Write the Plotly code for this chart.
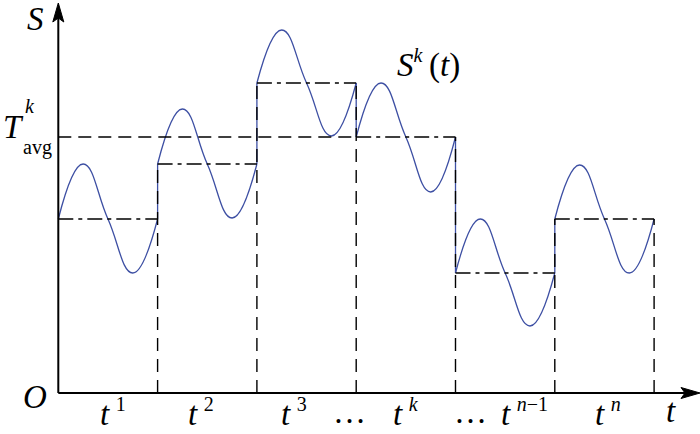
import plotly.graph_objects as go

# ---------------- data ----------------
boundaries = [0, 1, 2, 3, 4, 5, 6]                 # segment edges on t
seg_level = [17.4, 22.9, 31.0, 25.6, 12.0, 17.4]   # segment average (dash-dot steps)
seg_peak = [22.9, 28.4, 36.3, 31.0, 17.4, 22.8]    # curve maximum in each segment
seg_trough = [12.0, 17.5, 25.7, 20.1, 6.7, 12.0]   # curve minimum in each segment
t_avg_value = 25.6                                  # T^k_avg level
t_avg_end = 3                                       # T^k_avg line ends at start of segment k

x_label_base = ["t", "t", "t", "…", "t", "…", "t", "t"]
x_label_sup = ["1", "2", "3", "", "<i>k</i>", "", "<i>n</i>−1", "<i>n</i>"]
x_label_pos = [0.55, 1.44, 2.37, 2.93, 3.50, 4.15, 4.69, 5.54]

# ---------------- geometry helpers (pixel <-> data) ----------------
W, H = 700, 434
X0PX, XSCALE = 58.3, 99.3     # t = 0 at px 58.3, 99.3 px per unit
Y0PX, YSCALE = 393.0, 10.0    # S = 0 at py 393, 10 px per unit


def tx(px):
    return (px - X0PX) / XSCALE


def sy(py):
    return (Y0PX - py) / YSCALE


BLUE = "#3d4fa3"
FONT = "Liberation Serif"
MAIN = 33
SUP = 20


def sup(s):
    return f"\u2009<sup><span style='font-size:{SUP}px'>{s}</span></sup>"


fig = go.Figure()

# sine-like curve in each segment (spline through start, peak, mid, trough, end)
for i in range(len(seg_level)):
    a, b = boundaries[i], boundaries[i + 1]
    w = b - a
    xs = [a, a + w / 4, a + w / 2, a + 3 * w / 4, b]
    ys = [seg_level[i], seg_peak[i], seg_level[i], seg_trough[i], seg_level[i]]
    fig.add_trace(go.Scatter(x=xs, y=ys, mode="lines",
                             line=dict(color=BLUE, width=1.3, shape="spline", smoothing=1.3),
                             hoverinfo="skip", showlegend=False))

# vertical jumps of the curve at segment edges
jx, jy = [], []
for i in range(1, len(seg_level)):
    jx += [boundaries[i], boundaries[i], None]
    jy += [seg_level[i - 1], seg_level[i], None]
fig.add_trace(go.Scatter(x=jx, y=jy, mode="lines", line=dict(color=BLUE, width=1.3),
                         hoverinfo="skip", showlegend=False))

# step (segment averages) dash-dot lines
for i in range(len(seg_level)):
    fig.add_trace(go.Scatter(x=[boundaries[i], boundaries[i + 1]], y=[seg_level[i], seg_level[i]],
                             mode="lines", line=dict(color="black", width=1.5, dash="15px,5px,4px,5px"),
                             hoverinfo="skip", showlegend=False))

# vertical dashed lines at segment edges down to the axis
for i in range(1, len(boundaries)):
    top = seg_level[i - 1] if i == len(boundaries) - 1 else max(seg_level[i - 1], seg_level[i])
    fig.add_trace(go.Scatter(x=[boundaries[i], boundaries[i]], y=[0, top], mode="lines",
                             line=dict(color="black", width=1.4, dash="13px,8px"),
                             hoverinfo="skip", showlegend=False))

# T^k_avg dashed line
fig.add_trace(go.Scatter(x=[0, t_avg_end], y=[t_avg_value, t_avg_value], mode="lines",
                         line=dict(color="black", width=1.5, dash="13px,7px"),
                         hoverinfo="skip", showlegend=False))

shapes = []
# axes
shapes.append(dict(type="line", xref="x", yref="y", x0=0, y0=0, x1=tx(688), y1=0,
                   line=dict(color="black", width=2)))
shapes.append(dict(type="line", xref="x", yref="y", x0=0, y0=0, x1=0, y1=sy(14),
                   line=dict(color="black", width=2)))
# arrowheads (x then y)
tip, L, hw, notch = 700, 19, 5.5, 4
shapes.append(dict(type="path", xref="x", yref="y",
                   path=f"M {tx(tip)} {sy(Y0PX)} L {tx(tip-L)} {sy(Y0PX-hw)} L {tx(tip-L+notch)} {sy(Y0PX)} "
                        f"L {tx(tip-L)} {sy(Y0PX+hw)} Z",
                   fillcolor="black", line=dict(color="black", width=1)))
ytip = 3
shapes.append(dict(type="path", xref="x", yref="y",
                   path=f"M {tx(X0PX)} {sy(ytip)} L {tx(X0PX-hw)} {sy(ytip+L)} L {tx(X0PX)} {sy(ytip+L-notch)} "
                        f"L {tx(X0PX+hw)} {sy(ytip+L)} Z",
                   fillcolor="black", line=dict(color="black", width=1)))

annotations = []


def label(text, px, py, size=MAIN):
    annotations.append(dict(text=text, x=tx(px), y=sy(py), xref="x", yref="y", showarrow=False,
                            xanchor="center", yanchor="middle",
                            font=dict(family=FONT, size=size, color="black")))


for base, s, pos in zip(x_label_base, x_label_sup, x_label_pos):
    txt = (f"<i>{base}</i>" + sup(s)) if s else base
    annotations.append(dict(text=txt, x=pos, y=sy(412), xref="x", yref="y", showarrow=False,
                            xanchor="center", yanchor="middle",
                            font=dict(family=FONT, size=MAIN, color="black")))

label("<i>t</i>", 671, 411)
label("<i>O</i>", 35, 397)
label("<i>S</i>", 35, 19)
label("<i>T</i>", 13, 127)
label("<i>k</i>", 30, 106, SUP)
label("avg", 37, 147, SUP)
label("<i>S</i>" + f"<sup><span style='font-size:{SUP}px'><i>k</i></span></sup>" + "\u2009(<i>t</i>)",
      428, 64, MAIN)

fig.update_layout(width=W, height=H, margin=dict(l=0, r=0, t=0, b=0),
                  paper_bgcolor="white", plot_bgcolor="white",
                  xaxis=dict(range=[tx(0), tx(W)], visible=False, fixedrange=True),
                  yaxis=dict(range=[sy(H), sy(0)], visible=False, fixedrange=True),
                  shapes=shapes, annotations=annotations, showlegend=False)

fig.write_html("out.html", config={"displayModeBar": False},
               post_script="document.body.style.margin='0';document.body.style.overflow='hidden';")
